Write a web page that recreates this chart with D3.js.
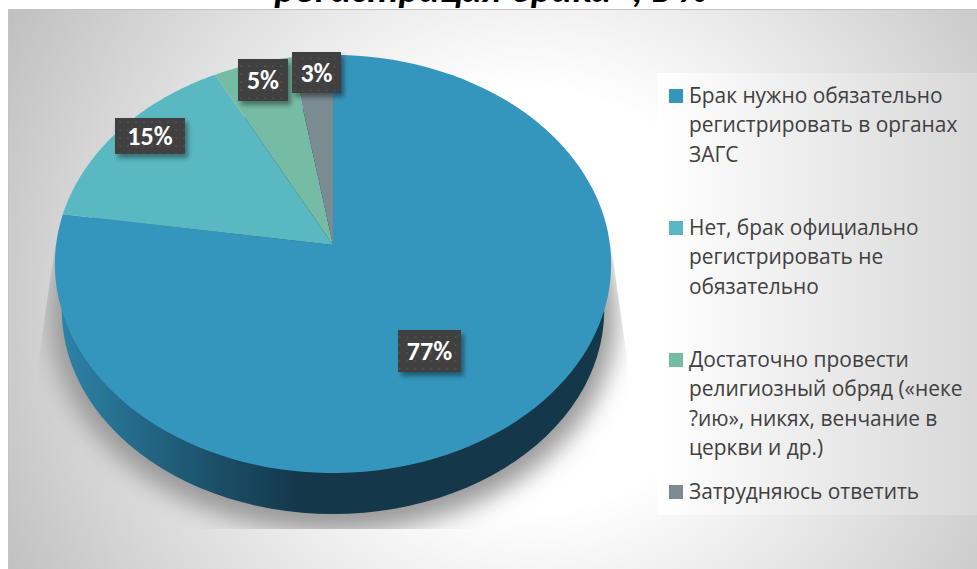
<!DOCTYPE html>
<html lang="ru">
  <head>
    <title>Брак</title>
    <meta charset="utf-8" />
    <script src="https://cdn.jsdelivr.net/npm/d3@7"></script>
    <style>
      html, body { margin: 0; padding: 0; background: #fff; overflow: hidden; }
    </style>
  </head>
  <body>
    <script>
      const categories = [
        ["Брак нужно обязательно", "регистрировать в органах", "ЗАГС"],
        ["Нет, брак официально", "регистрировать не", "обязательно"],
        ["Достаточно провести", "религиозный обряд («неке", "?ию», никях, венчание в", "церкви и др.)"],
        ["Затрудняюсь ответить"],
      ];
      const values = [77.4, 15, 5, 2.6];
      const colors = ["#3596bd", "#5ab8c2", "#76bca5", "#7a8c92"];
      const titleText = "регистрация брака», в %";

      const width = 977, height = 569;
      const labelFont = "Carlito, Lato, sans-serif";
      const legendFont = "'Open Sans', 'Noto Sans', sans-serif";

      const svg = d3.select("body").append("svg")
        .attr("width", width)
        .attr("height", height)
        .style("display", "block");

      const defs = svg.append("defs");

      const bgGrad = defs.append("radialGradient").attr("id", "bg")
        .attr("gradientUnits", "userSpaceOnUse")
        .attr("cx", 530).attr("cy", 300).attr("r", 600);
      bgGrad.append("stop").attr("offset", 0.35).attr("stop-color", "#ffffff");
      bgGrad.append("stop").attr("offset", 1).attr("stop-color", "#bfbfbf");

      const legGrad = defs.append("linearGradient").attr("id", "leg");
      legGrad.append("stop").attr("offset", 0).attr("stop-color", "#ffffff");
      legGrad.append("stop").attr("offset", 1).attr("stop-color", "#d8d8d8");

      const wallGrad = defs.append("linearGradient").attr("id", "wall")
        .attr("gradientUnits", "userSpaceOnUse").attr("x1", 60).attr("x2", 340);
      wallGrad.append("stop").attr("offset", 0).attr("stop-color", "#2d83a8");
      wallGrad.append("stop").attr("offset", 0.55).attr("stop-color", "#1b5068");
      wallGrad.append("stop").attr("offset", 0.85).attr("stop-color", "#14384a");

      defs.append("filter").attr("id", "blur")
        .attr("x", "-20%").attr("y", "-20%").attr("width", "140%").attr("height", "140%")
        .append("feGaussianBlur").attr("stdDeviation", 12);

      const labelShadow = defs.append("filter").attr("id", "lblShadow")
        .attr("x", "-30%").attr("y", "-30%").attr("width", "170%").attr("height", "170%");
      labelShadow.append("feDropShadow")
        .attr("dx", 3).attr("dy", 4).attr("stdDeviation", 2.5)
        .attr("flood-color", "#000").attr("flood-opacity", 0.4);

      const dots = defs.append("pattern").attr("id", "dots")
        .attr("width", 8).attr("height", 8).attr("patternUnits", "userSpaceOnUse");
      dots.append("rect").attr("width", 8).attr("height", 8).attr("fill", "#3f3f3f");
      dots.append("circle").attr("cx", 2).attr("cy", 2).attr("r", 1).attr("fill", "#525252");

      // the shadow is cut off by a straight-edged box in the original
      defs.append("clipPath").attr("id", "shadowClip")
        .append("path").attr("d", d3.line()([[55, 245], [38, 365], [38, 529], [628, 529], [628, 365], [611, 245]]) + "Z");

      // background panel
      svg.append("rect").attr("x", 8).attr("y", 9).attr("width", width - 8).attr("height", height - 9)
        .attr("fill", "url(#bg)");
      svg.append("path").attr("d", `M8.5,${height}V9.5H${width}`)
        .attr("fill", "none").attr("stroke", "#c4c4c4");

      // title, cut by the top of the picture
      svg.append("text").attr("x", 491).attr("y", 2)
        .attr("text-anchor", "middle")
        .attr("font-family", labelFont).attr("font-size", 39)
        .attr("font-weight", 700).attr("font-style", "italic")
        .attr("fill", "#000")
        .text(titleText);

      // legend panel
      svg.append("rect").attr("x", 657).attr("y", 73).attr("width", 320).attr("height", 442)
        .attr("fill", "url(#leg)");

      // pie: a circle seen in perspective, so the centre sits above the middle of the ellipse
      const cx = 333, apexY = 245;
      const k = 0.0909, A = 277, B = 207.3, depth = 41;
      const wallScale = 0.975, bottomY = 473;
      const project = (a) => {
        const s = Math.sin(a), c = Math.cos(a), w = 1 + k * c;
        return [cx + A * s / w, apexY - B * c / w];
      };
      const line = d3.line();
      const arcPoints = (a0, a1) =>
        d3.range(0, 1.0001, 1 / 120).map((t) => project(a0 + (a1 - a0) * t));

      const pie = d3.pie().sort(null).value((d) => d);
      const slices = pie(values);

      // lower rim of the disc, slightly narrower than the top face
      const lowerRim = arcPoints(0, 2 * Math.PI).map(([x, y]) => [
        cx + (x - cx) * wallScale,
        bottomY + depth + (y - bottomY) * wallScale,
      ]);

      // cast shadow under the pie
      svg.append("g").attr("clip-path", "url(#shadowClip)")
        .append("path")
        .attr("d", line(lowerRim) + "Z")
        .attr("transform", "translate(0,6)")
        .attr("fill", "#999")
        .attr("stroke", "#999")
        .attr("stroke-width", 24)
        .attr("filter", "url(#blur)");

      // side wall
      svg.append("path")
        .attr("d", line(lowerRim) + "Z")
        .attr("fill", "url(#wall)");

      // top face
      svg.append("g").selectAll("path")
        .data(slices)
        .join("path")
        .attr("d", (d) => line([[cx, apexY]].concat(arcPoints(d.startAngle, d.endAngle))) + "Z")
        .attr("fill", (d, i) => colors[i]);

      // data labels
      const labelBoxes = [
        { cx: 429.5, cy: 351, w: 63, h: 42 },
        { cx: 150, cy: 136, w: 70, h: 36 },
        { cx: 263, cy: 80, w: 50, h: 42 },
        { cx: 316.5, cy: 72.5, w: 49, h: 41 },
      ];
      const fmt = d3.format(".0f");
      const labels = svg.append("g").selectAll("g")
        .data(slices)
        .join("g")
        .attr("transform", (d, i) => `translate(${labelBoxes[i].cx},${labelBoxes[i].cy})`);
      labels.append("rect")
        .attr("x", (d, i) => -labelBoxes[i].w / 2)
        .attr("y", (d, i) => -labelBoxes[i].h / 2)
        .attr("width", (d, i) => labelBoxes[i].w)
        .attr("height", (d, i) => labelBoxes[i].h)
        .attr("fill", "url(#dots)")
        .attr("filter", "url(#lblShadow)");
      labels.append("text")
        .attr("text-anchor", "middle")
        .attr("dy", "0.35em")
        .attr("font-family", labelFont).attr("font-size", 26).attr("font-weight", 700)
        .attr("fill", "#fff")
        .text((d) => fmt(d.value) + "%");

      // legend
      const legendY = [82, 214, 346, 478];
      const lineHeight = 29.3;
      const legend = svg.append("g").selectAll("g")
        .data(categories)
        .join("g")
        .attr("transform", (d, i) => `translate(669,${legendY[i]})`);
      legend.append("rect")
        .attr("y", 7).attr("width", 14).attr("height", 14)
        .attr("fill", (d, i) => colors[i]);
      legend.selectAll("text")
        .data((d) => d)
        .join("text")
        .attr("x", 20)
        .attr("y", (d, i) => 21 + i * lineHeight)
        .attr("font-family", legendFont).attr("font-size", 20.9)
        .attr("fill", "#404040")
        .text((d) => d);
    </script>
  </body>
</html>
